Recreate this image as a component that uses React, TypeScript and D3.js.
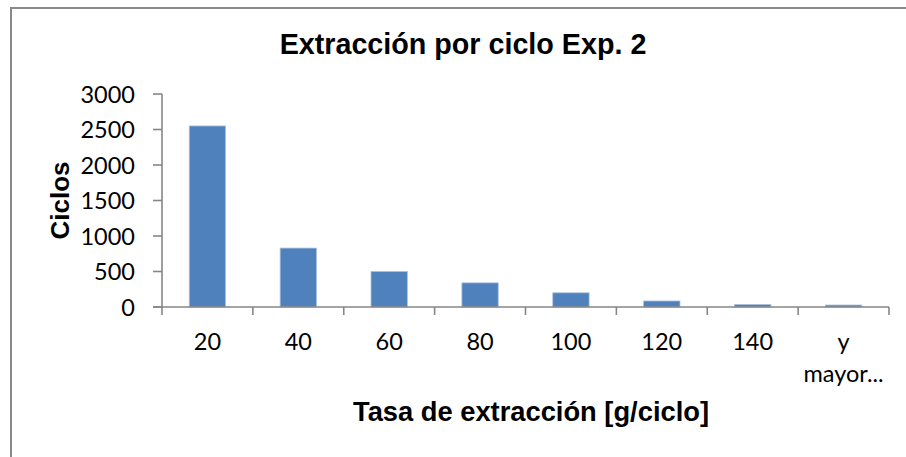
import React from "react";
import * as d3 from "d3";

// Histogram of cycles per extraction-rate bin
const categories = ["20", "40", "60", "80", "100", "120", "140", "y mayor..."];
const cycles = [2550, 830, 500, 340, 200, 85, 35, 28];
const yTickValues = [0, 500, 1000, 1500, 2000, 2500, 3000];

const title = "Extracción por ciclo Exp. 2";
const xTitle = "Tasa de extracción [g/ciclo]";
const yTitle = "Ciclos";

const W = 906;
const H = 457;
const plot = { left: 162, right: 889, top: 94, bottom: 307 };

const boldFont = "'Liberation Sans', Arial, sans-serif";
const tickFont = "Lato, 'Open Sans', sans-serif";
const axisColor = "#868686";

export default function App() {
  const slot = d3
    .scaleBand<string>()
    .domain(categories)
    .range([plot.left, plot.right])
    .padding(0);

  const bars = d3
    .scaleBand<string>()
    .domain(categories)
    .range([plot.left, plot.right])
    .paddingInner(0.6)
    .paddingOuter(0.3);

  const y = d3.scaleLinear().domain([0, 3000]).range([plot.bottom, plot.top]);

  const boundaries = categories.map((c) => slot(c) as number).concat([plot.right]);

  return (
    <div style={{ position: "fixed", left: 0, top: 0 }}>
      <svg width={W} height={H} style={{ display: "block", background: "#fff" }}>
        {/* chart frame */}
        <rect x={11} y={8} width={W + 20} height={H + 20} fill="#fff" stroke="#8a8a8a" strokeWidth={2} />

        <text x={463} y={54} textAnchor="middle" fontFamily={boldFont} fontWeight="bold" fontSize={28.7} fill="#000">
          {title}
        </text>

        {/* bars */}
        {categories.map((c, i) => (
          <rect
            key={c}
            x={bars(c)}
            y={y(cycles[i])}
            width={bars.bandwidth()}
            height={plot.bottom - y(cycles[i])}
            fill="#4F81BD"
            stroke="#A9C1DF"
            strokeWidth={0.8}
          />
        ))}

        {/* y axis */}
        <line x1={plot.left} x2={plot.left} y1={plot.top} y2={plot.bottom} stroke={axisColor} strokeWidth={1.6} />
        {yTickValues.map((v) => (
          <g key={v}>
            <line x1={plot.left - 9} x2={plot.left} y1={y(v)} y2={y(v)} stroke={axisColor} strokeWidth={1.6} />
            <text x={135} y={y(v) + 8.5} textAnchor="end" fontFamily={tickFont} fontSize={23.5} fill="#000">
              {v}
            </text>
          </g>
        ))}

        {/* x axis */}
        <line x1={plot.left - 9} x2={plot.right} y1={plot.bottom} y2={plot.bottom} stroke={axisColor} strokeWidth={1.6} />
        {boundaries.map((bx, i) => (
          <line key={i} x1={bx} x2={bx} y1={plot.bottom} y2={plot.bottom + 8} stroke={axisColor} strokeWidth={1.6} />
        ))}
        {categories.map((c) => {
          const cx = (slot(c) as number) + slot.bandwidth() / 2;
          const lines = c === "y mayor..." ? ["y", "mayor..."] : [c];
          return (
            <text key={c} x={cx} y={349.5} textAnchor="middle" fontFamily={tickFont} fontSize={23.5} fill="#000">
              {lines.map((t, k) => (
                <tspan key={k} x={cx} dy={k === 0 ? 0 : 32}>
                  {t}
                </tspan>
              ))}
            </text>
          );
        })}

        <text x={531} y={421} textAnchor="middle" fontFamily={boldFont} fontWeight="bold" fontSize={27.3} fill="#000">
          {xTitle}
        </text>

        <text
          transform={`translate(69, ${(plot.top + plot.bottom) / 2}) rotate(-90)`}
          textAnchor="middle"
          fontFamily={boldFont}
          fontWeight="bold"
          fontSize={26}
          fill="#000"
        >
          {yTitle}
        </text>
      </svg>
    </div>
  );
}
